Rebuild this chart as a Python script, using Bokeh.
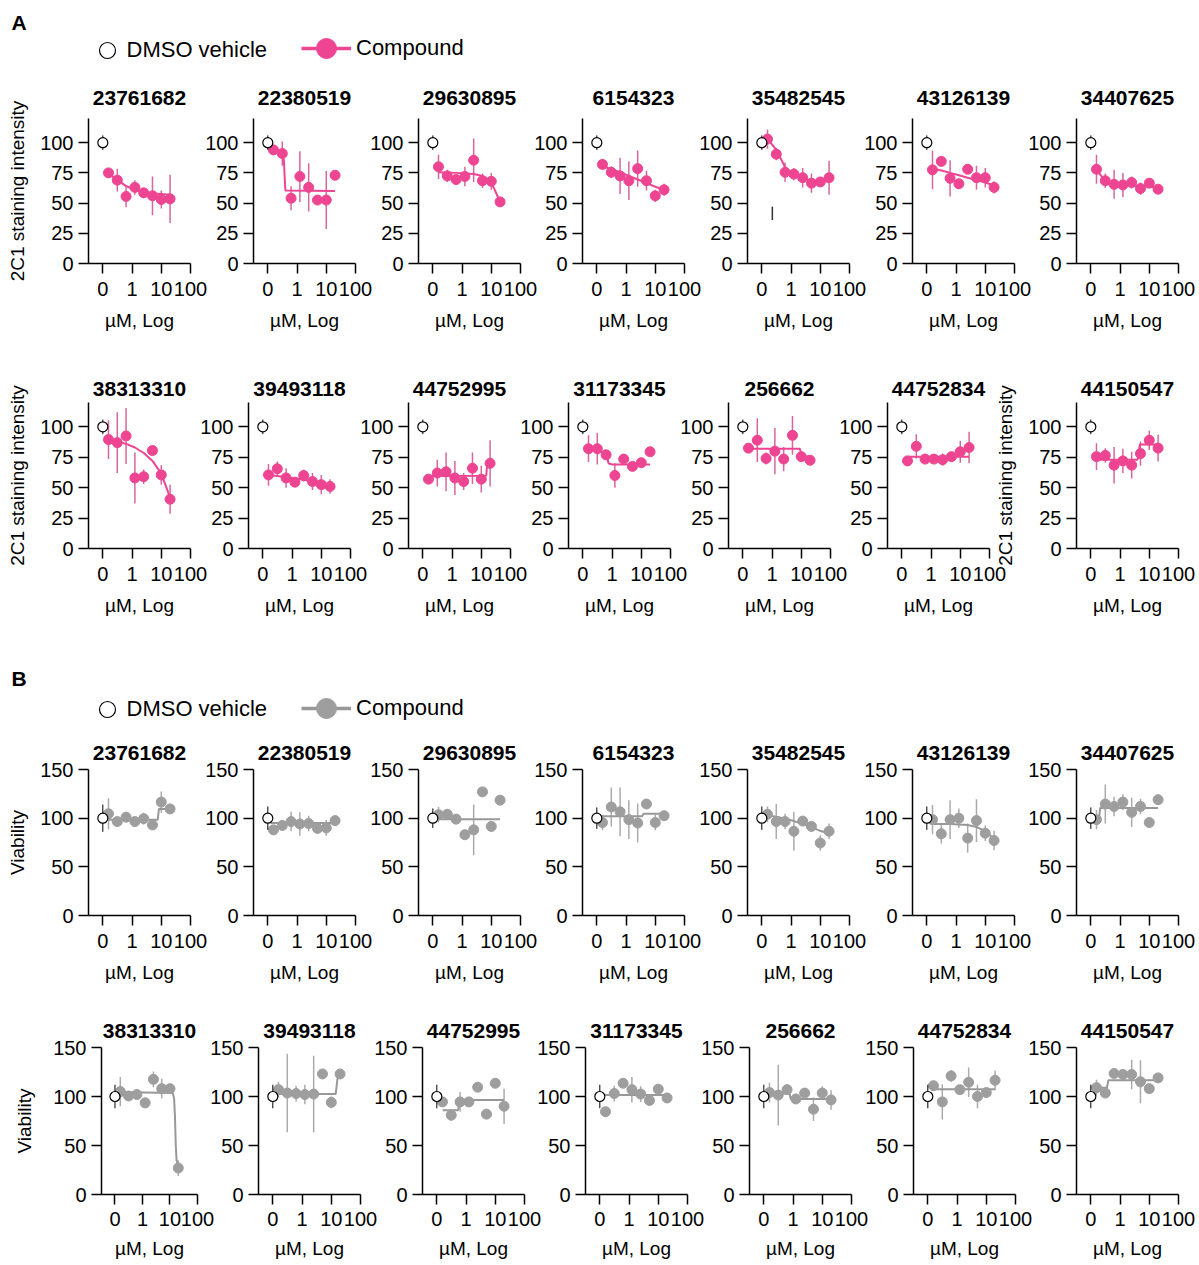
import numpy as np
from bokeh.plotting import figure
from bokeh.models import (Range1d, FixedTicker, ColumnDataSource, Label, Legend,
                          LegendItem, Row, Column)
from bokeh.embed import file_html
from bokeh.resources import INLINE

FONT = "Liberation Sans"

# ---------------- data ----------------
COMPOUNDS = ["23761682", "22380519", "29630895", "6154323", "35482545", "43126139", "34407625",
             "38313310", "39493118", "44752995", "31173345", "256662", "44752834", "44150547"]
DOSES_UM = [0.15625, 0.3125, 0.625, 1.25, 2.5, 5.0, 10.0, 20.0]
DMSO_AXIS_UM = 0.1          # DMSO vehicle is drawn at the "0" slot of the log axis
DMSO_MEAN = 100.0

X_TICK_POS = [-1, 0, 1, 2]                 # log10(µM)
X_TICK_LABELS = ["0", "1", "10", "100"]
STAIN_TICKS = [0, 25, 50, 75, 100]
VIAB_TICKS = [0, 50, 100, 150]

# A: 2C1 staining intensity (mean, SEM)
STAIN_MEAN = [
    [75, 69, 55.5, 63, 58.5, 56, 53, 53.5],
    [94, 91, 54, 72, 63, 52.5, 52.5, 73],
    [80, 72.5, 69.5, 72, 85.5, 68.5, 68, 51],
    [82, 75.5, 72.5, 68.5, 78.5, 68.5, 56, 61],
    [103, 90.5, 75.5, 74, 71, 66.5, 67.5, 71],
    [77.5, 84.5, 70.5, 66, 78, 71, 71, 63],
    [78, 68.5, 65.5, 65, 67, 62, 66.5, 61.5],
    [89.5, 87, 92.5, 58, 59, 80.5, 60.5, 40.5],
    [60.5, 65.5, 58, 54.5, 60, 55, 52.5, 51],
    [57, 62, 63, 58, 55, 66, 57, 70],
    [82, 82, 77, 60, 73.5, 67.5, 70.5, 79.5],
    [82.5, 89, 74, 80, 73.5, 93, 75.5, 72.5],
    [72, 84, 73.5, 73.5, 73, 75.5, 79.5, 83],
    [75.5, 76.5, 68.5, 72, 68.5, 78, 89, 82.5],
]
STAIN_SEM = [
    [3, 9.5, 9, 6, 4, 16, 7.5, 20],
    [3, 10, 10, 21, 20, 3, 24, 3],
    [10, 5, 4, 8, 18, 6, 7, 2],
    [4, 5, 15, 16, 15, 8, 5, 5],
    [8, 5, 8, 5, 8, 8, 3, 14],
    [16, 4, 15, 4, 4, 10, 8, 5],
    [12, 6, 12, 10, 5, 5, 3, 3],
    [16, 25, 23, 21, 6, 2, 8, 12],
    [9, 6, 8, 3, 5, 7, 8, 6],
    [2, 11, 16, 14, 7, 13, 11, 19],
    [11, 13, 3, 10, 4, 3, 3, 3],
    [3, 18, 5, 19, 10, 16, 4, 3],
    [3, 10, 3, 3, 5, 3, 9, 13],
    [11, 6, 15, 10, 11, 10, 8, 11],
]
STAIN_DMSO_SEM = [6, 6, 6, 6, 6, 6, 6, 6, 6, 6, 6, 6, 6, 6]

D = [-0.8, -0.5, -0.2, 0.1, 0.4, 0.7, 1.0, 1.3]   # log10 of the doses, where fits were read
STAIN_FIT_LOGX = [
    D,
    [-0.8, -0.5, -0.45, -0.4, 1.3],
    [-0.8, -0.2, 0.4, 0.7, 0.9, 1.0, 1.1, 1.2, 1.3],
    D, D, D, D, D, D,
    [-0.8, 1.17, 1.2, 1.3],
    [-0.8, -0.5, -0.2, -0.12, 0.0, 1.3],
    [-0.8, 0.95, 1.02, 1.3],
    [-0.8, 1.3],
    [-0.8, 0.6, 0.68, 1.3],
]
STAIN_FIT_Y = [
    [74.5, 69, 64, 61, 59, 58, 57.5, 57],
    [94, 92, 85, 60.5, 60],
    [75.5, 75, 74, 72.5, 69.5, 66.5, 62, 56.5, 51],
    [80.5, 78, 75.5, 72.5, 69.5, 66.5, 63.5, 61],
    [103, 94, 79.5, 73, 70, 68.5, 68, 68],
    [78.5, 77, 75, 73, 71, 69, 67, 64.5],
    [77.5, 68, 65.5, 65, 64.5, 64, 63.5, 63],
    [89.5, 88, 86, 83, 78.5, 72, 61.5, 42],
    [60.5, 59.5, 58.5, 57.5, 56.5, 55, 53.5, 52],
    [59.5, 59.8, 69, 70],
    [81.5, 80.5, 78, 70, 69, 69],
    [82, 82, 76, 75.5],
    [75.5, 75.5],
    [73, 73, 85.5, 85.5],
]
# lone stray error bar visible in the 35482545 staining panel
STRAY_BAR_COMPOUND = "35482545"
STRAY_BAR_LOGX = -0.64
STRAY_BAR_LO = 36
STRAY_BAR_HI = 47

# B: viability (mean, SEM)
VIAB_MEAN = [
    [104.5, 96.5, 101, 96.5, 99.5, 93, 116.5, 109.5],
    [88, 92.5, 96.5, 94, 94.5, 89.5, 90, 97.5],
    [103.5, 104, 99, 83, 88, 127, 91.5, 118.5],
    [95.5, 111.5, 106.5, 98.5, 95, 114.5, 95.5, 102.5],
    [104, 96.5, 96.5, 86.5, 97, 91.5, 74.5, 86.5],
    [98.5, 84, 98.5, 100, 79.5, 97.5, 84.5, 77],
    [98.5, 114.5, 112, 116.5, 106, 112, 95.5, 119],
    [105, 100.5, 102, 93.5, 117.5, 108, 108, 27],
    [107, 103.5, 103, 102, 102.5, 123, 94, 123],
    [94.5, 81, 94.5, 94.5, 109.5, 82, 113.5, 90],
    [84.5, 103, 113.5, 107, 102.5, 96, 107.5, 98.5],
    [104, 101.5, 107, 97.5, 103.5, 87, 103.5, 96.5],
    [111, 94.5, 121, 107, 114.5, 100, 104, 116.5],
    [109, 103.5, 123.5, 122.5, 122.5, 115, 108, 119],
]
VIAB_SEM = [
    [16, 3, 4, 3, 6, 3, 11, 4],
    [5, 3, 10, 12, 8, 4, 8, 3],
    [8, 5, 2, 2, 26, 2, 2, 2],
    [8, 20, 25, 20, 20, 5, 8, 5],
    [8, 18, 8, 20, 3, 5, 8, 8],
    [15, 10, 20, 10, 15, 22, 8, 10],
    [10, 20, 10, 8, 15, 8, 3, 3],
    [15, 3, 3, 5, 8, 10, 3, 8],
    [8, 40, 8, 10, 39, 3, 6, 3],
    [3, 6, 10, 3, 3, 5, 3, 18],
    [3, 8, 3, 13, 8, 5, 3, 5],
    [10, 31, 5, 5, 5, 12, 7, 10],
    [5, 18, 6, 3, 15, 12, 5, 10],
    [8, 3, 3, 3, 15, 22, 5, 3],
]
VIAB_DMSO_SEM = [14, 12, 10, 11, 12, 12, 11, 12, 12, 12, 12, 12, 12, 12]
VIAB_FIT_LOGX = [
    [-0.9, 0.88, 0.92, 1.3],
    [-0.9, 1.3],
    [-0.9, 1.3],
    [-0.9, 0.55, 0.6, 1.3],
    D,
    D,
    [-0.9, -0.72, -0.68, 1.3],
    [-0.9, 1.1, 1.15, 1.18, 1.21, 1.24, 1.3],
    [-0.9, 1.15, 1.22, 1.3],
    [-0.8, -0.27, -0.22, 1.3],
    [-0.9, 1.3],
    [-0.9, -0.12, -0.08, 1.3],
    [-0.9, 1.3],
    [-0.8, -0.45, -0.4, 1.3],
]
VIAB_FIT_Y = [
    [98.5, 98.5, 109.5, 109.5],
    [95, 95],
    [99, 99],
    [102, 102, 104.5, 104.5],
    [103, 101.5, 99.5, 97, 94, 90.5, 87, 84],
    [94, 94, 94, 93.5, 93, 91, 86.5, 79],
    [98.5, 99, 110.5, 110.5],
    [104.5, 103.5, 98, 80, 50, 35, 28],
    [102.5, 102.5, 120, 122.5],
    [86, 86, 96.5, 96.5],
    [101.5, 101.5],
    [103, 103, 97.5, 97.5],
    [107.5, 107.5],
    [109, 109, 116.5, 116.5],
]

# ---------------- styling ----------------
PINK = "#EE4592"
PINK_ERR = "#D6679E"
GRAY = "#9E9E9E"
GRAY_ERR = "#ABABAB"
GRAY_FIT = "#989898"

SECTIONS = {
    "A": dict(mean=STAIN_MEAN, sem=STAIN_SEM, dmso_sem=STAIN_DMSO_SEM, fx=STAIN_FIT_LOGX,
              fy=STAIN_FIT_Y, ymax=120, yticks=STAIN_TICKS, ylabel="2C1 staining intensity",
              color=PINK, ecolor=PINK_ERR, fcolor=PINK),
    "B": dict(mean=VIAB_MEAN, sem=VIAB_SEM, dmso_sem=VIAB_DMSO_SEM, fx=VIAB_FIT_LOGX,
              fy=VIAB_FIT_Y, ymax=150, yticks=VIAB_TICKS, ylabel="Viability",
              color=GRAY, ecolor=GRAY_ERR, fcolor=GRAY_FIT),
}

XMIN, XMAX = -1.49, 2.0
BL, FW = 84, 102
PAGE_X = 0      # the standalone Bokeh template has no body margin


def make_panel(sec, ci, frame_h, bt, bb, br, cfg, show_ylabel):
    S = SECTIONS[sec]
    p = figure(width=BL + FW + br, height=bt + frame_h + bb,
               x_range=Range1d(XMIN, XMAX), y_range=Range1d(0, S["ymax"]),
               output_backend="svg", toolbar_location=None,
               min_border_left=BL, min_border_right=br, min_border_top=bt, min_border_bottom=bb,
               border_fill_color=None, background_fill_color=None, outline_line_color=None)
    p.grid.visible = False
    p.title.text = COMPOUNDS[ci]
    p.title.align = "center"
    p.title.text_font = FONT
    p.title.text_font_size = "21px"
    p.title.text_font_style = "bold"
    p.title.text_color = "black"
    p.title.standoff = cfg["title_standoff"]

    xa, ya = p.xaxis[0], p.yaxis[0]
    xa.ticker = FixedTicker(ticks=X_TICK_POS)
    xa.major_label_overrides = {t: l for t, l in zip(X_TICK_POS, X_TICK_LABELS)}
    ya.ticker = FixedTicker(ticks=S["yticks"])
    for ax in (xa, ya):
        ax.axis_line_color = "black"
        ax.axis_line_width = 1.5
        ax.major_tick_line_color = "black"
        ax.major_tick_line_width = 1.5
        ax.major_tick_in = 0
        ax.major_tick_out = 10
        ax.minor_tick_line_color = None
        ax.major_label_text_font = FONT
        ax.major_label_text_font_size = "20px"
        ax.major_label_text_color = "black"
        ax.axis_label_text_font = FONT
        ax.axis_label_text_font_size = "19px"
        ax.axis_label_text_font_style = "normal"
        ax.axis_label_text_color = "black"
    xa.major_label_standoff = cfg["xtick_standoff"]
    xa.axis_label = "µM, Log"
    xa.axis_label_standoff = cfg["xlabel_standoff"]
    ya.major_label_standoff = 5
    if show_ylabel:
        ya.axis_label = S["ylabel"]
        ya.axis_label_standoff = cfg["ylabel_standoff"]

    x = np.log10(DOSES_UM)
    m = np.array(S["mean"][ci], dtype=float)
    e = np.array(S["sem"][ci], dtype=float)
    src = ColumnDataSource(dict(x=x, y=m, lo=m - e, hi=m + e))
    p.segment(x0="x", y0="lo", x1="x", y1="hi", source=src, line_color=S["ecolor"], line_width=1.5)
    if sec == "A" and COMPOUNDS[ci] == STRAY_BAR_COMPOUND:
        p.segment(x0=[STRAY_BAR_LOGX], y0=[STRAY_BAR_LO], x1=[STRAY_BAR_LOGX], y1=[STRAY_BAR_HI],
                  line_color="#333333", line_width=1.5)
    p.line(S["fx"][ci], S["fy"][ci], line_color=S["fcolor"], line_width=2)
    p.scatter("x", "y", source=src, size=10, fill_color=S["color"], line_color=S["color"])

    dx = float(np.log10(DMSO_AXIS_UM))
    ds = S["dmso_sem"][ci]
    p.segment(x0=[dx], y0=[DMSO_MEAN - ds], x1=[dx], y1=[DMSO_MEAN + ds],
              line_color="black", line_width=1)
    p.scatter([dx], [DMSO_MEAN], size=10, fill_color="white", line_color="black", line_width=1.2)
    return p


def make_header(letter, top, height, color, line_color, letter_y, dmso_y, comp_y):
    p = figure(width=1191, height=height, x_range=Range1d(PAGE_X, PAGE_X + 1191),
               y_range=Range1d(top + height, top), output_backend="svg", toolbar_location=None,
               min_border=0, x_axis_location=None, y_axis_location=None,
               border_fill_color=None, background_fill_color=None, outline_line_color=None)
    p.grid.visible = False
    p.add_layout(Label(x=11, y=letter_y, text=letter, text_font=FONT, text_font_size="21px",
                       text_font_style="bold", text_baseline="middle", text_align="left",
                       text_color="black"))
    # legend-only renderers (NaN data: nothing is drawn in the plot area)
    nan = [float("nan")]
    dmso_r = p.scatter(x=nan, y=nan, fill_color="white", line_color="black", line_width=1.2)
    c_line = p.line(x=nan, y=nan, line_color=line_color, line_width=3.5)
    c_dot = p.scatter(x=nan, y=nan, fill_color=color, line_color=color)
    common = dict(padding=0, margin=0, spacing=0, border_line_color=None,
                  background_fill_alpha=0, label_text_font=FONT, label_text_font_size="22px",
                  label_text_color="black")
    g1 = 40
    leg1 = Legend(items=[LegendItem(label="DMSO vehicle", renderers=[dmso_r])],
                  location=(106.5 - g1 / 2 - PAGE_X, (top + height) - (dmso_y + g1 / 2)),
                  glyph_width=g1, glyph_height=g1, label_height=g1, label_standoff=0, **common)
    g2 = 50
    leg2 = Legend(items=[LegendItem(label="Compound", renderers=[c_line, c_dot])],
                  location=(326 - g2 / 2 - PAGE_X, (top + height) - (comp_y + g2 / 2)),
                  glyph_width=g2, glyph_height=g2, label_height=g2, label_standoff=5, **common)
    p.add_layout(leg1)
    p.add_layout(leg2)
    return p


# rows: section, compound indices, frame left x (page px), top border, frame height,
#       bottom border, text offsets, panels with y-axis label
ROWS_CFG = [
    ("A", list(range(0, 7)), [88, 253, 418, 582, 747, 912, 1076], 54, 145, 97,
     dict(title_standoff=28, xtick_standoff=8, xlabel_standoff=11, ylabel_standoff=9), {0}),
    ("A", list(range(7, 14)), [88, 248, 408, 568, 728, 887, 1076], 42, 146, 92,
     dict(title_standoff=14, xtick_standoff=8, xlabel_standoff=11, ylabel_standoff=9), {0, 6}),
    ("B", list(range(0, 7)), [88, 253, 418, 582, 747, 912, 1076], 45, 146, 85,
     dict(title_standoff=19, xtick_standoff=8, xlabel_standoff=11, ylabel_standoff=9), {0}),
    ("B", list(range(7, 14)), [95, 258, 422, 585, 749, 913, 1076], 47, 147, 71,
     dict(title_standoff=20, xtick_standoff=7, xlabel_standoff=9, ylabel_standoff=15), {0}),
]

rows = []
for sec, cis, fls, bt, fh, bb, cfg, ylab in ROWS_CFG:
    figs = []
    cur = PAGE_X
    for k, (ci, fl) in enumerate(zip(cis, fls)):
        br = 20 if k == len(cis) - 1 else 24
        p = make_panel(sec, ci, fh, bt, bb, br, cfg, k in ylab)
        fig_left = fl - BL
        p.margin = (0, 0, 0, fig_left - cur)
        cur = fig_left + p.width
        figs.append(p)
    rows.append(Row(children=figs, spacing=0))

header_a = make_header("A", 0, 64, PINK, PINK, 22, 50, 47.5)
header_b = make_header("B", 640, 84, GRAY, GRAY_FIT, 678, 709, 707.5)

layout = Column(children=[header_a, rows[0], rows[1], header_b, rows[2], rows[3]], spacing=0)

with open("out.html", "w") as f:
    f.write(file_html(layout, INLINE))
